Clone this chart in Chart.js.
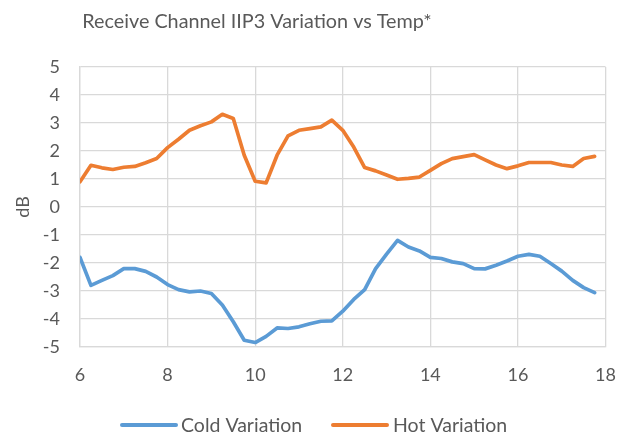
<!DOCTYPE html>
<html>
<head>
<meta charset="utf-8">
<script src="https://cdn.jsdelivr.net/npm/chart.js@4/dist/chart.umd.min.js"></script>
<style>
  html, body { margin: 0; padding: 0; background: #ffffff; }
  #wrap { width: 633px; height: 435px; position: relative; }
</style>
</head>
<body>
<div id="wrap"><canvas id="c" width="633" height="435"></canvas></div>
<script>
const chartTitle = "Receive Channel IIP3 Variation vs Temp*";
const yAxisTitle = "dB";
const seriesNames = ["Cold Variation", "Hot Variation"];
const seriesColors = ["#5B9BD5", "#ED7D31"];

const temps = [6, 6.25, 6.5, 6.75, 7, 7.25, 7.5, 7.75, 8, 8.25, 8.5, 8.75,
  9, 9.25, 9.5, 9.75, 10, 10.25, 10.5, 10.75, 11, 11.25, 11.5, 11.75,
  12, 12.25, 12.5, 12.75, 13, 13.25, 13.5, 13.75, 14, 14.25, 14.5, 14.75,
  15, 15.25, 15.5, 15.75, 16, 16.25, 16.5, 16.75, 17, 17.25, 17.5, 17.75];

const coldVariation = [-1.8, -2.8, -2.62, -2.45, -2.2, -2.2, -2.3, -2.5, -2.77, -2.95, -3.03, -3.0,
  -3.09, -3.5, -4.1, -4.76, -4.84, -4.62, -4.32, -4.34, -4.28, -4.17, -4.08, -4.07,
  -3.72, -3.3, -2.95, -2.2, -1.68, -1.19, -1.43, -1.57, -1.8, -1.84, -1.96, -2.02,
  -2.2, -2.21, -2.08, -1.93, -1.76, -1.69, -1.76, -2.02, -2.29, -2.62, -2.88, -3.06];

const hotVariation = [0.9, 1.49, 1.4, 1.34, 1.42, 1.45, 1.58, 1.73, 2.12, 2.42, 2.74, 2.9,
  3.04, 3.31, 3.16, 1.85, 0.92, 0.86, 1.85, 2.54, 2.74, 2.8, 2.86, 3.1,
  2.74, 2.14, 1.41, 1.29, 1.14, 0.99, 1.02, 1.07, 1.31, 1.55, 1.73, 1.8,
  1.87, 1.68, 1.5, 1.37, 1.47, 1.59, 1.59, 1.59, 1.5, 1.45, 1.73, 1.81];

const xTicks = [6, 8, 10, 12, 14, 16, 18];
const yTicks = [-5, -4, -3, -2, -1, 0, 1, 2, 3, 4, 5];

const FONT = "Lato, 'Open Sans', sans-serif";
const TEXT = "#595959";
const GRID = "#d9d9d9";

function pts(ys) { return temps.map((t, i) => ({ x: t, y: ys[i] })); }

const decor = {
  id: 'decor',
  afterDraw(chart) {
    const ctx = chart.ctx;
    ctx.save();
    // title
    ctx.fillStyle = TEXT;
    ctx.font = "19.8px " + FONT;
    ctx.textAlign = "center";
    ctx.textBaseline = "middle";
    ctx.fillText(chartTitle, 257, 22);
    // legend
    const items = [
      { x0: 122, x1: 176, tx: 181 },
      { x0: 333, x1: 387, tx: 393 }
    ];
    const ly = 425;
    ctx.font = "19.5px " + FONT;
    ctx.textAlign = "left";
    chart.data.datasets.forEach((ds, i) => {
      const it = items[i];
      ctx.strokeStyle = ds.borderColor;
      ctx.lineWidth = 4;
      ctx.lineCap = "round";
      ctx.beginPath();
      ctx.moveTo(it.x0, ly);
      ctx.lineTo(it.x1, ly);
      ctx.stroke();
      ctx.fillStyle = TEXT;
      ctx.fillText(ds.label, it.tx, ly + 1);
    });
    ctx.restore();
  }
};

new Chart(document.getElementById('c'), {
  type: 'scatter',
  data: {
    datasets: [
      { label: seriesNames[0], data: pts(coldVariation), showLine: true,
        borderColor: seriesColors[0], backgroundColor: seriesColors[0],
        borderWidth: 3.7, pointRadius: 0, tension: 0,
        borderCapStyle: 'round', borderJoinStyle: 'round' },
      { label: seriesNames[1], data: pts(hotVariation), showLine: true,
        borderColor: seriesColors[1], backgroundColor: seriesColors[1],
        borderWidth: 3.7, pointRadius: 0, tension: 0,
        borderCapStyle: 'round', borderJoinStyle: 'round' }
    ]
  },
  options: {
    responsive: false,
    animation: false,
    devicePixelRatio: 1,
    layout: { padding: { top: 67, right: 26, bottom: 0, left: 0 } },
    plugins: {
      legend: { display: false },
      title: { display: false },
      tooltip: { enabled: false }
    },
    scales: {
      x: {
        type: 'linear',
        min: xTicks[0], max: xTicks[xTicks.length - 1],
        afterBuildTicks: (s) => { s.ticks = xTicks.map(v => ({ value: v })); },
        afterFit: (s) => { s.height = 88; },
        ticks: { color: TEXT, font: { family: FONT, size: 18 }, padding: 17, maxRotation: 0 },
        grid: { color: GRID, lineWidth: 1.3, drawTicks: false },
        border: { color: GRID, width: 1.3 }
      },
      y: {
        type: 'linear',
        min: yTicks[0], max: yTicks[yTicks.length - 1],
        afterBuildTicks: (s) => { s.ticks = yTicks.map(v => ({ value: v })); },
        afterFit: (s) => { s.width = 80; },
        ticks: { color: TEXT, font: { family: FONT, size: 18 }, padding: 20 },
        grid: { color: GRID, lineWidth: 1.3, drawTicks: false },
        border: { color: GRID, width: 1.3 },
        title: { display: true, text: yAxisTitle, color: TEXT,
                 font: { family: FONT, size: 18 }, padding: { top: 12, bottom: 0 } }
      }
    }
  },
  plugins: [decor]
});
</script>
</body>
</html>
